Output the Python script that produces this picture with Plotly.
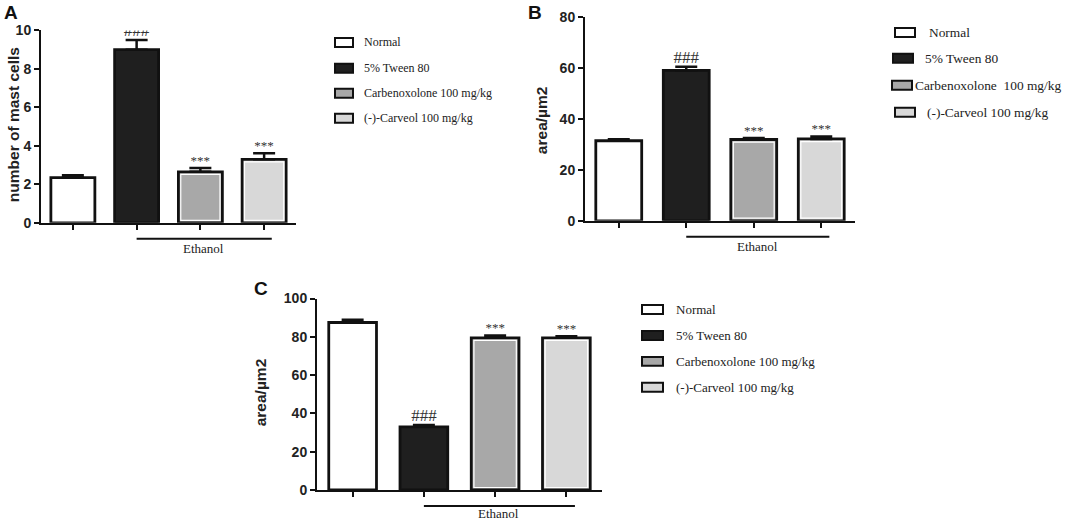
import plotly.graph_objects as go

W, H = 1065, 525

# data
groups = ["Normal", "5% Tween 80", "Carbenoxolone 100 mg/kg", "(-)-Carveol 100 mg/kg"]
legend_b = ["Normal", "5% Tween 80", "Carbenoxolone\u00a0\u00a0100 mg/kg", "(-)-Carveol 100 mg/kg"]
colors = ["#ffffff", "#1f1f1f", "#a8a8a8", "#d8d8d8"]

mast_cells = [2.35, 9.0, 2.65, 3.3]
mast_cells_err = [0.12, 0.5, 0.2, 0.32]

area_b = [31.5, 59.2, 32.0, 32.2]
area_b_err = [0.6, 1.4, 0.6, 1.0]

area_c = [87.5, 33.0, 79.5, 79.5]
area_c_err = [1.5, 1.0, 1.2, 0.8]

marks = ["", "###", "***", "***"]

SANS = "Liberation Sans, Arial, sans-serif"
SERIF = "Liberation Serif, Times New Roman, serif"

# the screenshot squeezes the page a little vertically; these undo it
Y_OFF, Y_SCALE = 7.5, 0.9726


def px_x(p):
    return p / W


def px_y(p):
    return 1 - ((p - Y_OFF) / Y_SCALE) / H


# panel boxes in pixels: left, right, bottom (y=0), top (y=max)
panels = [
    dict(x0=41, x1=296, y0=223, y1=30, ymax=10, dtick=2, vals=mast_cells, err=mast_cells_err,
         width=0.69, eth=26, suf=""),
    dict(x0=585, x1=855, y0=221, y1=17, ymax=80, dtick=20, vals=area_b, err=area_b_err,
         width=0.68, eth=26, suf="2"),
    dict(x0=317, x1=602, y0=491, y1=299, ymax=100, dtick=20, vals=area_c, err=area_c_err,
         width=0.67, eth=24, suf="3"),
]

fig = go.Figure()
layout = dict(
    width=W, height=H, margin=dict(l=0, r=0, t=0, b=0),
    paper_bgcolor="white", plot_bgcolor="white", showlegend=False, barmode="overlay",
)
shapes = []
annotations = []

for p in panels:
    s = p["suf"]
    xs = list(range(len(groups)))
    fig.add_trace(go.Bar(
        x=xs, y=p["vals"], width=p["width"],
        marker=dict(color=colors, line=dict(color="#111111", width=2.8)),
        error_y=dict(type="data", array=p["err"], arrayminus=[0] * 4, symmetric=False,
                     color="#111111", thickness=2.5, width=11),
        xaxis="x" + s, yaxis="y" + s,
    ))
    # thin white inner rim on the two grey bars
    inset = p["ymax"] * 0.013
    fig.add_trace(go.Bar(
        x=xs[2:], y=[v - 2 * inset for v in p["vals"][2:]], base=inset,
        width=p["width"] - 0.075,
        marker=dict(color="rgba(0,0,0,0)", line=dict(color="#ffffff", width=1.2)),
        xaxis="x" + s, yaxis="y" + s, hoverinfo="skip",
    ))
    tops = [v + e for v, e in zip(p["vals"], p["err"])]
    # significance marks above the error bars
    fig.add_trace(go.Scatter(
        x=xs[1:2], y=tops[1:2], text=marks[1:2],
        mode="text", textposition="top center",
        textfont=dict(family=SERIF, size=17, color="#333333"),
        xaxis="x" + s, yaxis="y" + s, hoverinfo="skip",
    ))
    fig.add_trace(go.Scatter(
        x=xs[2:], y=tops[2:], text=marks[2:],
        mode="text", textposition="top center",
        textfont=dict(family=SERIF, size=13, color="#333333"),
        xaxis="x" + s, yaxis="y" + s, hoverinfo="skip",
    ))
    layout["xaxis" + s] = dict(
        domain=[px_x(p["x0"]), px_x(p["x1"])], range=[-0.5, 3.5],
        anchor="y" + s, showline=True, linecolor="#111111", linewidth=2,
        tickmode="array", tickvals=xs, ticktext=[""] * 4, ticks="outside",
        ticklen=5, tickwidth=2, tickcolor="#111111", showgrid=False, zeroline=False,
        fixedrange=True,
    )
    layout["yaxis" + s] = dict(
        domain=[px_y(p["y0"]), px_y(p["y1"])], range=[0, p["ymax"]],
        anchor="x" + s, showline=True, linecolor="#111111", linewidth=2,
        dtick=p["dtick"], ticks="outside", ticklen=5, tickwidth=2, tickcolor="#111111",
        showgrid=False, zeroline=False,
        tickfont=dict(family=SANS, size=14, color="#222222", weight="bold"),
        fixedrange=True,
    )
    # Ethanol bracket under the treated groups
    yline = px_y(p["y0"] + 16)
    shapes.append(dict(type="line", xref="x" + s, yref="paper", x0=1, x1=3.12,
                       y0=yline, y1=yline, line=dict(color="#111111", width=2)))
    annotations.append(dict(xref="x" + s, yref="paper", x=2.05, y=px_y(p["y0"] + p["eth"]),
                            text="Ethanol", showarrow=False, yanchor="middle",
                            font=dict(family=SERIF, size=13, color="#222222")))

# axis titles
for title, tx, ty in [("number of mast cells", 13, 125), ("area/\u00b5m2", 541, 120),
                      ("area/\u00b5m2", 260, 393)]:
    annotations.append(dict(xref="paper", yref="paper", x=px_x(tx), y=px_y(ty), text=title,
                            textangle=-90, showarrow=False, xanchor="center", yanchor="middle",
                            font=dict(family=SANS, size=15.5, color="#222222", weight="bold")))

# panel letters
for letter, lx, ly in [("A", 11, 12), ("B", 535, 12), ("C", 261, 289)]:
    annotations.append(dict(xref="paper", yref="paper", x=px_x(lx), y=px_y(ly), text=letter,
                            showarrow=False, xanchor="center", yanchor="middle",
                            font=dict(family=SANS, size=19, color="#111111", weight="bold")))

# hand-drawn legends (swatch + label), one per panel
legends = [
    dict(sx=[335, 335, 335, 335], sw=18, tx=[362, 362, 362, 362], rows=[42, 68, 93, 118],
         labels=groups, size=12),
    dict(sx=[895, 893, 892, 895], sw=20, tx=[927, 923, 913, 925], rows=[32, 58, 85, 112],
         labels=legend_b, size=13.4),
    dict(sx=[642, 642, 642, 642], sw=21, tx=[674, 674, 674, 674], rows=[310, 336, 362, 388],
         labels=groups, size=13),
]
for lg in legends:
    for sx, tx, row, lab, col in zip(lg["sx"], lg["tx"], lg["rows"], lg["labels"], colors):
        shapes.append(dict(type="rect", xref="paper", yref="paper",
                           x0=px_x(sx), x1=px_x(sx + lg["sw"]),
                           y0=px_y(row + 4.5), y1=px_y(row - 4.5),
                           fillcolor=col, line=dict(color="#111111", width=2)))
        annotations.append(dict(xref="paper", yref="paper", x=px_x(tx), y=px_y(row),
                                text=lab, showarrow=False, xanchor="left", yanchor="middle",
                                font=dict(family=SERIF, size=lg["size"], color="#222222")))

layout["shapes"] = shapes
layout["annotations"] = annotations
fig.update_layout(**layout)

# drop the default page margin so the 1065x525 figure fills the window
fig.write_html("out.html", config={"displayModeBar": False},
               post_script="document.body.style.margin='0';document.body.style.overflow='hidden';")
